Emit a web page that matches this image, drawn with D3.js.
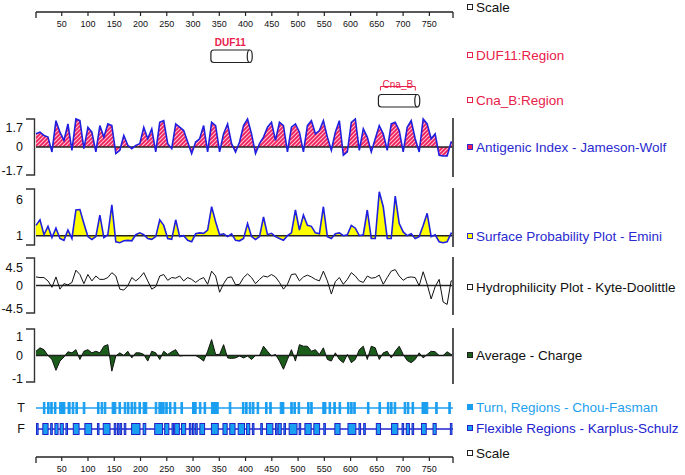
<!DOCTYPE html>
<html><head><meta charset="utf-8">
<script src="https://cdn.jsdelivr.net/npm/d3@7/dist/d3.min.js"></script>
<style>body{margin:0;background:#fff}svg{display:block;font-family:"Liberation Sans",Arial,sans-serif}</style>
</head><body><svg id="c" width="685" height="475"></svg>
<script>
// ---------- DATA ----------
const seqLength = 795;
const scaleTicks = [50,100,150,200,250,300,350,400,450,500,550,600,650,700,750];
const sampleStep = 7.6; // residues between samples

const antigenic = [0.8,0.9,0.7,0.6,-0.3,1.6,0.9,0.4,1.4,-0.2,1.7,1.6,-0.1,1.2,0.9,-0.3,1.3,0.6,1.4,1.3,
 -0.4,-0.2,0.7,0.1,-0.1,0.1,0.2,1.2,0.5,1.1,-0.3,1.5,1.6,0.2,-0.1,1.4,1.2,1.0,0.3,-0.4,
 0.3,0.5,1.3,-0.3,1.5,1.3,-0.3,0.8,1.4,0.2,-0.3,0.3,1.3,1.7,0.8,-0.4,0.2,0.6,1.2,1.5,
 0.4,1.5,1.3,-0.3,1.2,1.4,0.9,-0.3,1.3,1.6,0.8,1.0,1.6,0.6,-0.2,0.9,1.6,-0.5,-0.3,1.5,
 1.7,-0.2,1.1,0.6,-0.3,0.5,1.3,0.8,-0.2,1.4,1.5,1.0,-0.3,1.2,1.6,0.5,-0.3,1.7,1.4,0.5,
 0.8,-0.5,-0.55,-0.55,0.3];

const surface = [2.1,2.7,1.1,2.0,0.8,1.8,0.7,0.5,1.6,0.7,3.75,3.8,2.3,0.9,0.6,0.9,3.2,0.8,1.1,4.3,
 0.35,0.25,0.45,0.5,0.45,1.1,1.3,1.1,0.7,0.6,0.9,2.7,2.1,0.7,0.6,2.7,0.9,1.0,0.5,0.35,
 1.2,1.3,1.25,1.6,4.1,2.5,1.1,1.2,0.9,1.2,0.5,0.45,0.7,2.3,0.9,0.6,0.9,3.0,1.1,1.25,
 0.9,0.7,0.5,1.0,1.3,3.75,1.6,3.2,2.1,2.0,1.3,1.2,4.1,0.9,0.7,1.2,1.3,1.0,1.1,2.1,
 1.8,1.0,1.1,3.75,0.7,0.7,5.7,4.1,0.7,0.7,5.25,2.3,1.4,1.0,1.2,0.7,0.9,2.1,3.4,0.9,
 1.1,0.35,0.25,0.35,1.25];

const hydrophilicity = [1.4,1.3,1.3,0.75,-0.3,1.4,-0.6,0.3,0.1,0.5,2.5,1.8,0.3,1.8,0.75,1.55,1.0,1.0,1.3,2.1,
 1.55,-0.6,-0.75,-0.05,1.3,0.75,1.3,2.1,0.75,-0.6,-0.2,1.55,1.8,0.85,1.3,1.2,1.55,0.75,1.3,1.0,
 0.5,1.0,1.3,0.2,2.35,1.55,-1.1,0.3,1.3,1.4,0.1,0.2,1.3,1.9,1.3,0.3,1.0,1.55,1.4,1.8,
 1.4,0.5,-0.6,0.2,1.8,1.9,0.75,1.4,1.7,1.4,1.0,0.75,2.35,0.75,-1.4,0.65,1.3,0.2,1.0,2.1,
 1.55,0.75,0.5,1.55,1.2,1.3,1.7,0.2,1.3,2.35,2.6,1.55,0.85,1.3,1.4,1.3,-0.05,2.25,0.2,-2.2,
 -0.2,1.0,-2.7,-3.1,0.75];

const charge = [0.16,0.29,0.22,0,-0.15,-0.56,-0.21,-0.06,0.14,0.1,0.22,-0.15,0.16,0.22,0.1,0.16,0.1,0.35,0.41,-0.59,
 -0.02,0.1,0,0.16,-0.09,0.1,0.1,0.04,-0.21,0.16,0.1,-0.15,0.16,0.04,0.14,0.22,-0.02,0,0,0,
 0,-0.09,-0.21,0.16,0.6,0.04,0.04,0.41,-0.09,-0.11,-0.09,-0.02,-0.09,-0.02,-0.15,0,0,0.35,0.16,-0.02,
 0.04,-0.21,-0.52,-0.15,0.22,-0.21,0.41,0.35,0.35,0.16,0.22,0.04,0.29,-0.15,-0.21,0.1,-0.15,-0.27,0.04,-0.27,
 -0.15,0.22,0.35,-0.15,0.35,0.29,-0.15,0.1,0.16,-0.09,0.16,0.35,0.04,-0.19,-0.27,-0.15,0.1,-0.09,0.04,0.16,
 0.14,0,0,0.14,0.04];

const turnRegions = [[15,18],[23,26],[29,32],[36,39],[46,56],[62,66],[70,73],[77,80],[91,94],[118,121],
 [125,128],[131,134],[146,153],[159,162],[169,172],[175,178],[182,185],[188,191],[197,200],[205,212],
 [228,231],[235,240],[242,245],[248,251],[255,258],[264,267],[277,280],[299,302],[303,306],[312,315],
 [321,324],[335,348],[369,372],[394,397],[400,403],[407,410],[413,416],[422,425],[438,441],[446,449],
 [466,473],[486,489],[492,495],[500,503],[518,521],[524,527],[547,553],[559,562],[568,571],[578,581],
 [594,597],[600,603],[606,609],[632,635],[654,657],[670,673],[676,679],[683,686],[702,705],[708,711],
 [717,720],[736,747],[762,765],[787,790]];

const flexRegions = [[2,5],[14,24],[29,32],[37,43],[47,53],[58,61],[72,83],[94,107],[118,121],[129,142],
 [150,153],[156,159],[161,164],[169,172],[183,199],[205,210],[227,242],[246,254],[260,263],[265,274],
 [278,286],[293,296],[299,302],[305,308],[313,322],[335,348],[357,365],[370,380],[386,398],[402,408],
 [413,416],[429,432],[440,452],[457,460],[462,468],[473,476],[483,498],[502,505],[513,525],[530,541],
 [549,552],[570,580],[595,610],[616,619],[625,628],[649,657],[678,690],[698,701],[706,712],[717,720],
 [735,744],[757,763],[790,793]];

const domainNames = ["DUF11","Cna_B"];
const domainStarts = [334,653];
const domainEnds = [408,727];

const legendLabels = ["Scale","DUF11:Region","Cna_B:Region","Antigenic Index - Jameson-Wolf",
 "Surface Probability Plot - Emini","Hydrophilicity Plot - Kyte-Doolittle","Average - Charge",
 "Turn, Regions - Chou-Fasman","Flexible Regions - Karplus-Schulz","Scale"];

// ---------- DRAW ----------
const svg = d3.select("#c");
const X0 = 36, X1 = 453;
const x = d3.scaleLinear().domain([1, seqLength]).range([X0, X1]);
const residues = antigenic.map((d,i)=> 1 + i*sampleStep);

const defs = svg.append("defs");
const pat = defs.append("pattern").attr("id","hatch").attr("patternUnits","userSpaceOnUse")
  .attr("width",4).attr("height",4);
pat.append("rect").attr("width",4).attr("height",4).attr("fill","#ee1f5c");
pat.append("path").attr("d","M-1,1 L1,-1 M0,4 L4,0 M3,5 L5,3").attr("stroke","#ffc0d2").attr("stroke-width",1.1);

// Scale axes
function scaleAxis(yLine){
  const g = svg.append("g");
  g.append("line").attr("x1",X0).attr("x2",X1).attr("y1",yLine).attr("y2",yLine)
    .attr("stroke","#222").attr("stroke-width",1.3);
  [X0,X1].forEach(px=> g.append("line").attr("x1",px).attr("x2",px).attr("y1",yLine).attr("y2",yLine+6)
    .attr("stroke","#222").attr("stroke-width",1.3));
  scaleTicks.forEach(t=>{
    g.append("line").attr("x1",x(t)).attr("x2",x(t)).attr("y1",yLine).attr("y2",yLine+4)
      .attr("stroke","#222").attr("stroke-width",1.2);
    g.append("text").attr("x",x(t)).attr("y",yLine+12).attr("dy","0.35em").attr("text-anchor","middle")
      .attr("font-size",9).attr("fill","#111").text(t);
  });
}
scaleAxis(12);
scaleAxis(457);

// domain cylinders
const domainY = [50, 94.5];
domainNames.forEach((name,i)=>{
  const xa = x(domainStarts[i]), xb = x(domainEnds[i]);
  const yt = domainY[i], h = 12.5;
  svg.append("path").attr("d",`M${xb},${yt} H${xa+3} Q${xa},${yt} ${xa},${yt+3} V${yt+h-3} Q${xa},${yt+h} ${xa+3},${yt+h} H${xb}`)
    .attr("fill","#fff").attr("stroke","#222").attr("stroke-width",1.2);
  svg.append("ellipse").attr("cx",xb).attr("cy",yt+h/2).attr("rx",2.5).attr("ry",h/2)
    .attr("fill","#fff").attr("stroke","#222").attr("stroke-width",1.2);
  if(i===0){
    svg.append("text").attr("x",(xa+xb)/2).attr("y",yt-8).attr("dy","0.35em").attr("text-anchor","middle")
      .attr("font-size",10).attr("font-weight","bold").attr("fill","#e8204a").text(name);
  } else {
    svg.append("path").attr("d",`M${xa+2},${yt-4} V${yt-8} H${xb-2} V${yt-4}`).attr("fill","none")
      .attr("stroke","#e8204a").attr("stroke-width",1);
    svg.append("text").attr("x",(xa+xb)/2).attr("y",yt-8).attr("dy","0.1em").attr("text-anchor","middle")
      .attr("font-size",10).attr("fill","#e8204a").text(name);
  }
});

// profile panels
function panel(vals, top, bottom, dom, base, labels, fill, lineColor, lw){
  const y = d3.scaleLinear().domain(dom).range([bottom, top]);
  const pts = vals.map((v,i)=>[residues[i], v]);
  pts.push([seqLength, vals[vals.length-1]]);
  const g = svg.append("g");
  const area = d3.area().x(d=>x(d[0])).y0(y(base)).y1(d=>y(d[1])).curve(d3.curveLinear);
  if(fill) g.append("path").attr("d",area(pts)).attr("fill",fill);
  g.append("line").attr("x1",X0).attr("x2",X1).attr("y1",y(base)).attr("y2",y(base))
    .attr("stroke","#222").attr("stroke-width",1.5);
  const line = d3.line().x(d=>x(d[0])).y(d=>y(d[1])).curve(d3.curveLinear);
  g.append("path").attr("d",line(pts)).attr("fill","none").attr("stroke",lineColor)
    .attr("stroke-width",lw).attr("stroke-linejoin","miter");
  // bracket
  g.append("path").attr("d",`M26,${top} H34.5 V${bottom} H26`).attr("fill","none")
    .attr("stroke","#333").attr("stroke-width",1.4);
  g.append("line").attr("x1",453).attr("x2",453).attr("y1",top-1).attr("y2",bottom+2)
    .attr("stroke","#555").attr("stroke-width",2);
  labels.forEach(l=>{
    g.append("text").attr("x",23).attr("y",y(l.v)+l.off).attr("dy","0.35em").attr("text-anchor","end")
      .attr("font-size",12.5).attr("fill","#111").text(l.t);
  });
}
panel(antigenic,119,175,[-1.7,1.7],0,[{v:1.7,t:"1.7",off:9},{v:0,t:"0",off:0},{v:-1.7,t:"-1.7",off:-4}],
  "url(#hatch)","#1f1fe0",1.6);
panel(surface,189,245,[0,6],1,[{v:6,t:"6",off:11},{v:1,t:"1",off:0}],"#ffff00","#1f1fe0",1.6);
panel(hydrophilicity,258,313,[-4.5,4.5],0,[{v:4.5,t:"4.5",off:10},{v:0,t:"0",off:0},{v:-4.5,t:"-4.5",off:-4}],
  null,"#111",1);
panel(charge,329,382,[-1,1],0,[{v:1,t:"1",off:8},{v:0,t:"0",off:0},{v:-1,t:"-1",off:-3}],"#1b5e1b","#111",1);

// tracks
function track(regions, yc, label, lineColor, fillColor, strokeColor){
  const g = svg.append("g");
  g.append("text").attr("x",21).attr("y",yc).attr("dy","0.35em").attr("text-anchor","middle")
    .attr("font-size",12.5).attr("fill","#111").text(label);
  g.append("line").attr("x1",X0).attr("x2",X1).attr("y1",yc).attr("y2",yc).attr("stroke",lineColor).attr("stroke-width",1.5);
  g.selectAll("rect").data(regions).join("rect")
    .attr("x",d=>x(d[0])).attr("width",d=>Math.max(1.2, x(d[1])-x(d[0])))
    .attr("y",yc-5.5).attr("height",11)
    .attr("fill",fillColor).attr("stroke",strokeColor).attr("stroke-width",1);
}
track(turnRegions,408,"T","#1e9ff0","#1a9ef0","#1a9ef0");
track(flexRegions,429,"F","#2222d0","#1aa0f0","#2020c8");

// legend
const legendY = [7,55,100,147,236,287,355,407,428,453];
const legendText = ["#111","#e8204a","#e8204a","#2a2ad0","#2a2ad0","#111","#111","#1e9ff0","#2222d0","#111"];
const legendFill = ["#fff","#fff","#fff","#ee1f5c","#ffff00","#fff","#1b5e1b","#1a9ef0","#1aa0f0","#fff"];
const legendStroke = ["#222","#e8204a","#e8204a","#2a2ad0","#2a2ad0","#222","#222","#1a9ef0","#2020c8","#222"];
legendLabels.forEach((t,i)=>{
  svg.append("rect").attr("x",467.5).attr("y",legendY[i]-2.5).attr("width",5).attr("height",5)
    .attr("fill",legendFill[i]).attr("stroke",legendStroke[i]).attr("stroke-width",1);
  svg.append("text").attr("x",476).attr("y",legendY[i]).attr("dy","0.35em").attr("font-size",13.5)
    .attr("fill",legendText[i]).text(t);
});
</script></body></html>
